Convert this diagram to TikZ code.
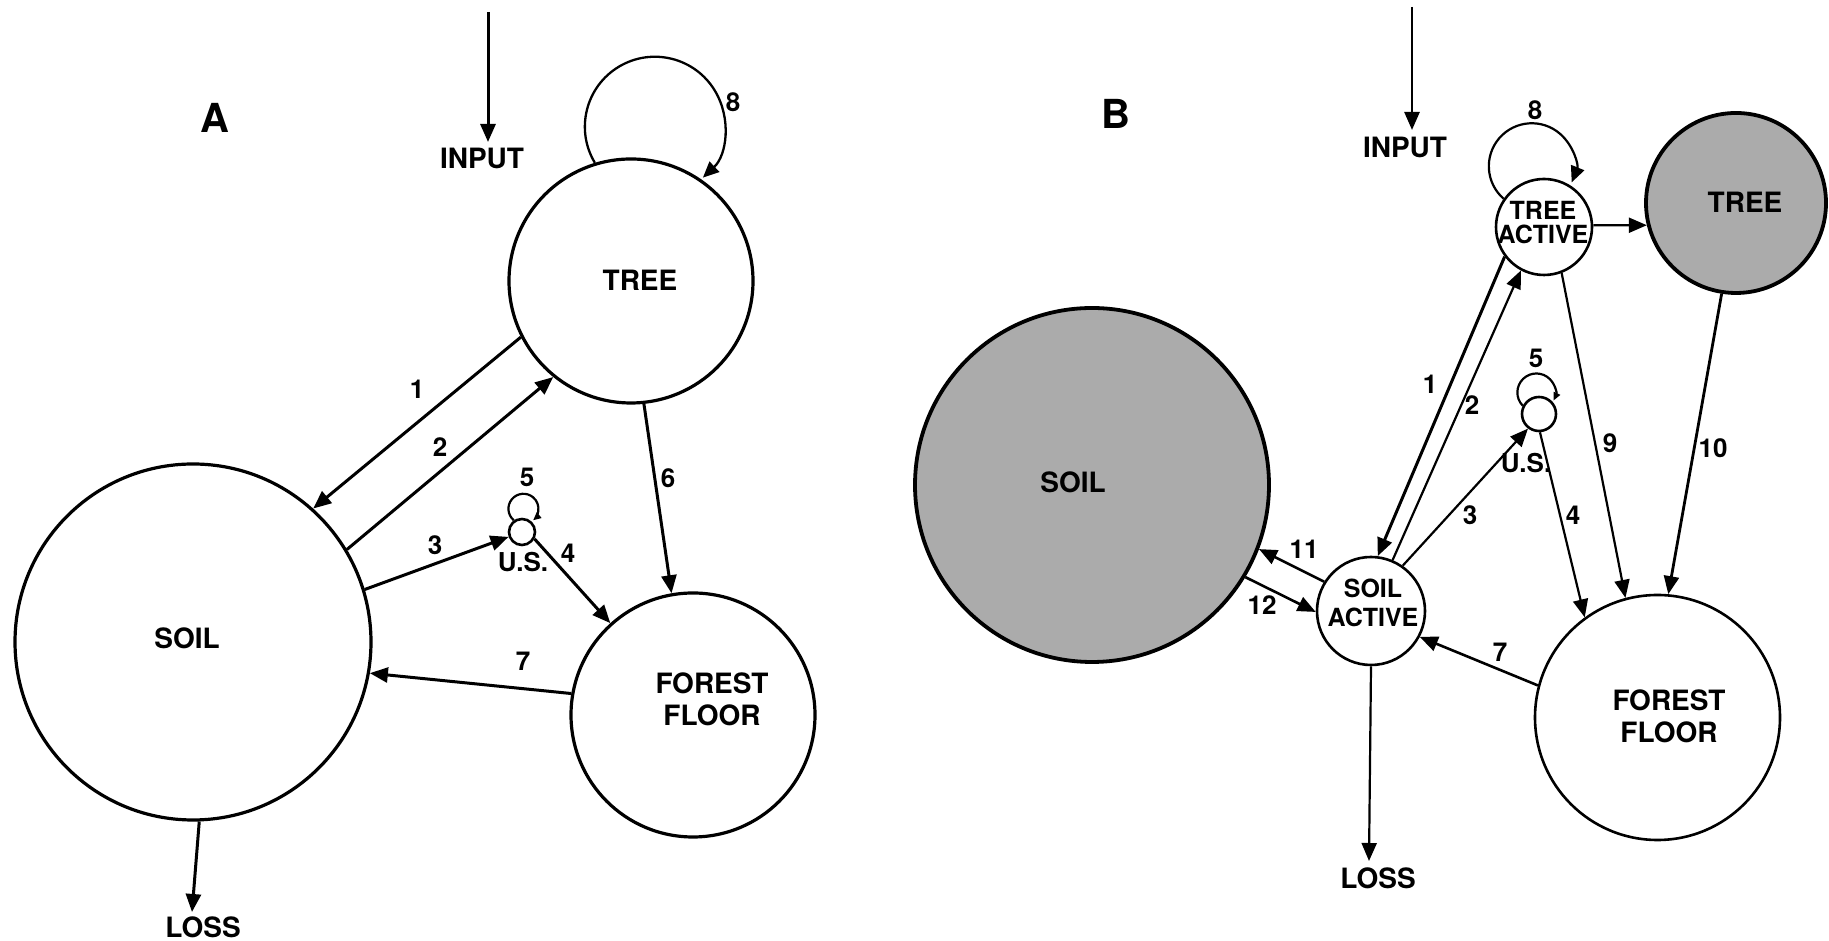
\documentclass[tikz,border=0pt]{standalone}
\usepackage{fontspec}
\setmainfont{TeX Gyre Heros}
\usetikzlibrary{arrows.meta}
\begin{document}
\begin{tikzpicture}[x=1pt,y=1pt,
  plainc/.style={circle, draw, line width=3.2pt, inner sep=0pt, fill=white},
  thinc/.style={circle, draw, line width=2.6pt, inner sep=0pt, fill=white},
  shadec/.style={circle, draw, line width=3.8pt, inner sep=0pt, fill=black!33},
  word/.style={font=\bfseries\fontsize{28}{32}\selectfont, inner sep=2pt, align=center},
  wordS/.style={font=\bfseries\fontsize{25}{24}\selectfont, inner sep=1pt, align=center},
  num/.style={font=\bfseries\fontsize{26}{26}\selectfont, inner sep=1pt},
  panel/.style={font=\bfseries\fontsize{40}{40}\selectfont},
  tipL/.style={-{Triangle[length=18pt,width=15pt]}},
  arr/.style={tipL, line width=3pt},
  arrT/.style={tipL, line width=2.2pt},
  loopbig/.style={-{Triangle[length=16pt,width=14pt]}, line width=2.3pt},
  loopsmall/.style={-{Triangle[length=8pt,width=7pt]}, line width=2.2pt}
]
\useasboundingbox (0,0) rectangle (1829,941);

% ================= Panel A =================
\node[panel] (labA) at (215,823) {A};

\node[plainc, minimum size=244pt] (treeA) at (631,660) {};
\node[word] (treeAt) at (640,661) {TREE};
\node[plainc, minimum size=356pt] (soilA) at (193,299) {};
\node[word] (soilAt) at (187,303) {SOIL};
\node[plainc, minimum size=244pt] (ffA) at (693,226) {};
\node[word] (ffAt) at (712,242) {FOREST\\FLOOR};
\node[plainc, line width=2.6pt, minimum size=26pt] (usA) at (522,409) {};
\node[word, font=\bfseries\fontsize{26}{26}\selectfont] (usAt) at (523,379) {U.S.};

\node[word] (inputA) at (482,783) {INPUT};
\coordinate (inA) at (488,929);
\coordinate (inAend) at (488,799);
\node[word] (lossA) at (203,14) {LOSS};
\coordinate (lossAend) at (192,29);

\draw[arr] (inA) -- (inAend);
\draw[arr] (soilA.-88.8) -- (lossAend);
\draw[arr] (treeA.-153) -- (soilA.48.4);
\draw[arr] (soilA.31.4) -- (treeA.-129);
\draw[arr] (soilA.17.8) -- (usA.-160);
\draw[arr] (usA.-29) -- (ffA.132);
\draw[arr] (treeA.-84.5) -- (ffA.100.7);
\draw[arr] (ffA.170) -- (soilA.-10);
\draw[loopbig] (treeA.107) arc[start angle=211, end angle=-46.7, radius=70];
\draw[loopsmall] (usA.125) arc[start angle=230, end angle=-50, radius=15];

\node[num] (nA1) at (417,552) {1};
\node[num] (nA2) at (440,494) {2};
\node[num] (nA3) at (435,396) {3};
\node[num] (nA4) at (568,388) {4};
\node[num] (nA5) at (527,464) {5};
\node[num] (nA6) at (668,463) {6};
\node[num] (nA7) at (523,280) {7};
\node[num] (nA8) at (733,839) {8};

% ================= Panel B =================
\node[panel] (labB) at (1116,827) {B};

\node[shadec, minimum size=354pt] (soilB) at (1092,456) {};
\node[word] (soilBt) at (1073,459) {SOIL};
\node[shadec, minimum size=180pt] (treeB) at (1736,738) {};
\node[word] (treeBt) at (1745,739) {TREE};
\node[thinc, minimum size=96pt] (ta) at (1544,714) {};
\node[wordS] (tat) at (1543,718) {TREE\\ACTIVE};
\node[thinc, minimum size=108pt] (sa) at (1371,330) {};
\node[wordS, font=\bfseries\fontsize{25}{29}\selectfont] (sat) at (1373,338) {SOIL\\ACTIVE};
\node[thinc, minimum size=245pt] (ffB) at (1657.5,223.5) {};
\node[word] (ffBt) at (1669,225) {FOREST\\FLOOR};
\node[thinc, minimum size=34pt] (usB) at (1539,527) {};
\node[word, font=\bfseries\fontsize{26}{26}\selectfont] (usBt) at (1526,478) {U.S.};

\node[word] (inputB) at (1405,794) {INPUT};
\coordinate (inB) at (1412,934);
\coordinate (inBend) at (1412,811);
\node[word] (lossB) at (1378,63) {LOSS};
\coordinate (lossBend) at (1369,80);

\draw[arr, line width=2.6pt] (inB) -- (inBend);
\draw[arrT] (sa.-90) -- (lossBend);
\draw[arr] (ta.-143.5) -- (sa.83.1);
\draw[arrT] (sa.67.3) -- (ta.-118.2);
\draw[arrT] (sa.55) -- (usB.-127);
\draw[arrT] (usB.-87) -- (ffB.126.4);
\draw[arrT] (ta.-69.8) -- (ffB.105.6);
\draw[arr, line width=2.8pt] (treeB.-99) -- (ffB.85.9);
\draw[arr, line width=2.6pt] (ffB.165.2) -- (sa.-28.6);
\draw[arr, line width=2.6pt] (sa.148.4) -- (soilB.-21.1);
\draw[arr, line width=2.6pt] (soilB.-31.6) -- (sa.-179);
\draw[arrT] (ta.2.4) -- (treeB.-166.3);
\draw[loopbig, line width=2.2pt] (ta.145) arc[start angle=229, end angle=-22, radius=43];
\draw[loopsmall] (usB.153) arc[start angle=224, end angle=-25, radius=19];

\node[num] (nB1) at (1430,557) {1};
\node[num] (nB2) at (1472,536) {2};
\node[num] (nB3) at (1470,426) {3};
\node[num] (nB4) at (1573,426) {4};
\node[num] (nB5) at (1536,583) {5};
\node[num] (nB7) at (1500,289) {7};
\node[num] (nB8) at (1535,831) {8};
\node[num] (nB9) at (1610,498) {9};
\node[num] (nB10) at (1713,493) {10};
\node[num] (nB11) at (1304,392) {11};
\node[num] (nB12) at (1262,336) {12};
\end{tikzpicture}
\end{document}
